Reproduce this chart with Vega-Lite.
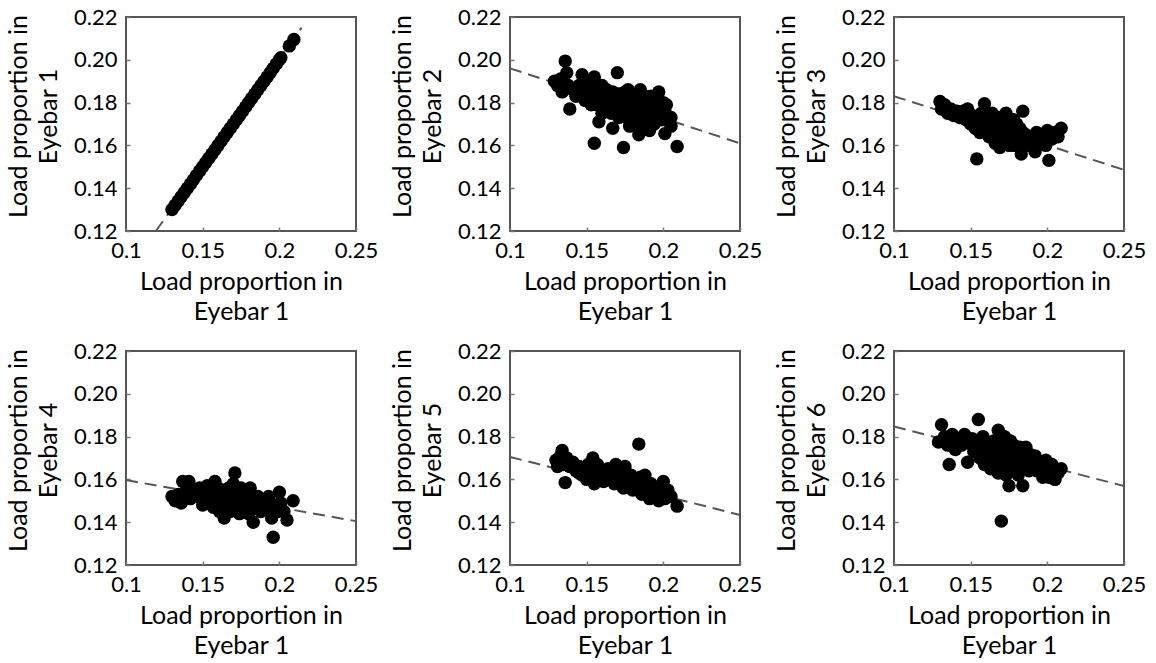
{
  "$schema": "https://vega.github.io/schema/vega-lite/v6.json",
  "padding": {"left": 5, "top": 5, "right": 5, "bottom": 5},
  "background": "white",
  "config": {
    "view": {"stroke": "#555555", "strokeWidth": 2},
    "axis": {
      "labelFont": "Lato", "labelFontSize": 22, "labelColor": "#000000",
      "titleFont": "Lato", "titleFontSize": 25, "titleFontWeight": "normal", "titleColor": "#000000",
      "titleLineHeight": 30,
      "domain": false, "grid": false, "ticks": true, "tickSize": -4, "tickColor": "#777777", "tickWidth": 1.5,
      "labelFlush": false, "labelOverlap": false, "labelBound": false,
      "labelPadding": 13
    },
    "axisX": {"titlePadding": 8},
    "axisY": {"titlePadding": 12, "titleY": 99}
  },
  "datasets": {
    "fit": [
      {"panel": 1, "x": 0.1195, "y": 0.12}, {"panel": 1, "x": 0.2145, "y": 0.215},
      {"panel": 2, "x": 0.1, "y": 0.196}, {"panel": 2, "x": 0.25, "y": 0.161},
      {"panel": 3, "x": 0.1, "y": 0.183}, {"panel": 3, "x": 0.25, "y": 0.1486},
      {"panel": 4, "x": 0.1, "y": 0.1597}, {"panel": 4, "x": 0.25, "y": 0.1405},
      {"panel": 5, "x": 0.1, "y": 0.1705}, {"panel": 5, "x": 0.25, "y": 0.1434},
      {"panel": 6, "x": 0.1, "y": 0.1847}, {"panel": 6, "x": 0.25, "y": 0.1569}
    ],
    "pts": [
      {"panel":1,"x":0.130,"y":0.130},{"panel":1,"x":0.132,"y":0.132},{"panel":1,"x":0.134,"y":0.134},{"panel":1,"x":0.136,"y":0.136},{"panel":1,"x":0.138,"y":0.138},{"panel":1,"x":0.140,"y":0.140},{"panel":1,"x":0.142,"y":0.142},{"panel":1,"x":0.144,"y":0.144},{"panel":1,"x":0.146,"y":0.146},{"panel":1,"x":0.148,"y":0.148},{"panel":1,"x":0.150,"y":0.150},{"panel":1,"x":0.152,"y":0.152},{"panel":1,"x":0.154,"y":0.154},{"panel":1,"x":0.156,"y":0.156},{"panel":1,"x":0.158,"y":0.158},{"panel":1,"x":0.160,"y":0.160},{"panel":1,"x":0.162,"y":0.162},{"panel":1,"x":0.164,"y":0.164},{"panel":1,"x":0.166,"y":0.166},{"panel":1,"x":0.168,"y":0.168},{"panel":1,"x":0.170,"y":0.170},{"panel":1,"x":0.172,"y":0.172},{"panel":1,"x":0.174,"y":0.174},{"panel":1,"x":0.176,"y":0.176},{"panel":1,"x":0.178,"y":0.178},{"panel":1,"x":0.180,"y":0.180},{"panel":1,"x":0.182,"y":0.182},{"panel":1,"x":0.184,"y":0.184},{"panel":1,"x":0.186,"y":0.186},{"panel":1,"x":0.188,"y":0.188},{"panel":1,"x":0.190,"y":0.190},{"panel":1,"x":0.192,"y":0.192},{"panel":1,"x":0.194,"y":0.194},{"panel":1,"x":0.196,"y":0.196},{"panel":1,"x":0.198,"y":0.198},{"panel":1,"x":0.200,"y":0.200},{"panel":1,"x":0.201,"y":0.201},{"panel":1,"x":0.2065,"y":0.2065},{"panel":1,"x":0.2095,"y":0.2095},

      {"panel":2,"x":0.129,"y":0.190},{"panel":2,"x":0.131,"y":0.188},{"panel":2,"x":0.133,"y":0.191},{"panel":2,"x":0.134,"y":0.185},{"panel":2,"x":0.136,"y":0.1994},{"panel":2,"x":0.137,"y":0.194},{"panel":2,"x":0.138,"y":0.188},{"panel":2,"x":0.139,"y":0.177},{"panel":2,"x":0.141,"y":0.186},{"panel":2,"x":0.143,"y":0.183},{"panel":2,"x":0.145,"y":0.188},{"panel":2,"x":0.147,"y":0.193},{"panel":2,"x":0.148,"y":0.185},{"panel":2,"x":0.149,"y":0.181},{"panel":2,"x":0.151,"y":0.186},{"panel":2,"x":0.152,"y":0.189},{"panel":2,"x":0.153,"y":0.183},{"panel":2,"x":0.155,"y":0.192},{"panel":2,"x":0.155,"y":0.161},{"panel":2,"x":0.156,"y":0.186},{"panel":2,"x":0.157,"y":0.179},{"panel":2,"x":0.158,"y":0.171},{"panel":2,"x":0.159,"y":0.184},{"panel":2,"x":0.160,"y":0.188},{"panel":2,"x":0.161,"y":0.181},{"panel":2,"x":0.162,"y":0.177},{"panel":2,"x":0.163,"y":0.186},{"panel":2,"x":0.164,"y":0.183},{"panel":2,"x":0.165,"y":0.179},{"panel":2,"x":0.166,"y":0.175},{"panel":2,"x":0.167,"y":0.168},{"panel":2,"x":0.167,"y":0.185},{"panel":2,"x":0.168,"y":0.181},{"panel":2,"x":0.170,"y":0.194},{"panel":2,"x":0.170,"y":0.178},{"panel":2,"x":0.171,"y":0.184},{"panel":2,"x":0.172,"y":0.181},{"panel":2,"x":0.173,"y":0.176},{"panel":2,"x":0.174,"y":0.159},{"panel":2,"x":0.174,"y":0.183},{"panel":2,"x":0.175,"y":0.179},{"panel":2,"x":0.176,"y":0.173},{"panel":2,"x":0.177,"y":0.186},{"panel":2,"x":0.178,"y":0.180},{"panel":2,"x":0.179,"y":0.176},{"panel":2,"x":0.180,"y":0.171},{"panel":2,"x":0.181,"y":0.183},{"panel":2,"x":0.182,"y":0.178},{"panel":2,"x":0.183,"y":0.174},{"panel":2,"x":0.184,"y":0.165},{"panel":2,"x":0.185,"y":0.186},{"panel":2,"x":0.186,"y":0.180},{"panel":2,"x":0.187,"y":0.176},{"panel":2,"x":0.188,"y":0.183},{"panel":2,"x":0.189,"y":0.171},{"panel":2,"x":0.190,"y":0.179},{"panel":2,"x":0.191,"y":0.167},{"panel":2,"x":0.192,"y":0.174},{"panel":2,"x":0.193,"y":0.180},{"panel":2,"x":0.194,"y":0.170},{"panel":2,"x":0.196,"y":0.176},{"panel":2,"x":0.197,"y":0.185},{"panel":2,"x":0.199,"y":0.172},{"panel":2,"x":0.200,"y":0.180},{"panel":2,"x":0.201,"y":0.1655},{"panel":2,"x":0.201,"y":0.176},{"panel":2,"x":0.203,"y":0.172},{"panel":2,"x":0.205,"y":0.173},{"panel":2,"x":0.209,"y":0.1595},
      {"panel":2,"x":0.145,"y":0.184},{"panel":2,"x":0.150,"y":0.189},{"panel":2,"x":0.158,"y":0.188},{"panel":2,"x":0.163,"y":0.180},{"panel":2,"x":0.168,"y":0.176},{"panel":2,"x":0.175,"y":0.185},{"panel":2,"x":0.180,"y":0.177},{"panel":2,"x":0.184,"y":0.181},{"panel":2,"x":0.189,"y":0.175},{"panel":2,"x":0.195,"y":0.179},{"panel":2,"x":0.192,"y":0.183},{"panel":2,"x":0.185,"y":0.170},{"panel":2,"x":0.178,"y":0.169},{"panel":2,"x":0.171,"y":0.173},{"panel":2,"x":0.160,"y":0.175},{"panel":2,"x":0.153,"y":0.179},{"panel":2,"x":0.196,"y":0.172},{"panel":2,"x":0.202,"y":0.179},{"panel":2,"x":0.205,"y":0.169},

      {"panel":3,"x":0.130,"y":0.1805},{"panel":3,"x":0.131,"y":0.177},{"panel":3,"x":0.133,"y":0.179},{"panel":3,"x":0.135,"y":0.175},{"panel":3,"x":0.137,"y":0.177},{"panel":3,"x":0.139,"y":0.174},{"panel":3,"x":0.141,"y":0.176},{"panel":3,"x":0.143,"y":0.173},{"panel":3,"x":0.145,"y":0.176},{"panel":3,"x":0.147,"y":0.172},{"panel":3,"x":0.148,"y":0.177},{"panel":3,"x":0.150,"y":0.170},{"panel":3,"x":0.151,"y":0.174},{"panel":3,"x":0.153,"y":0.168},{"panel":3,"x":0.154,"y":0.1537},{"panel":3,"x":0.155,"y":0.172},{"panel":3,"x":0.156,"y":0.166},{"panel":3,"x":0.157,"y":0.175},{"panel":3,"x":0.158,"y":0.170},{"panel":3,"x":0.159,"y":0.1795},{"panel":3,"x":0.160,"y":0.167},{"panel":3,"x":0.161,"y":0.173},{"panel":3,"x":0.162,"y":0.164},{"panel":3,"x":0.163,"y":0.170},{"panel":3,"x":0.164,"y":0.175},{"panel":3,"x":0.165,"y":0.166},{"panel":3,"x":0.166,"y":0.161},{"panel":3,"x":0.167,"y":0.172},{"panel":3,"x":0.168,"y":0.168},{"panel":3,"x":0.169,"y":0.159},{"panel":3,"x":0.170,"y":0.165},{"panel":3,"x":0.171,"y":0.170},{"panel":3,"x":0.172,"y":0.162},{"panel":3,"x":0.173,"y":0.175},{"panel":3,"x":0.174,"y":0.166},{"panel":3,"x":0.175,"y":0.160},{"panel":3,"x":0.176,"y":0.169},{"panel":3,"x":0.177,"y":0.163},{"panel":3,"x":0.178,"y":0.172},{"panel":3,"x":0.179,"y":0.166},{"panel":3,"x":0.180,"y":0.160},{"panel":3,"x":0.181,"y":0.164},{"panel":3,"x":0.182,"y":0.168},{"panel":3,"x":0.183,"y":0.156},{"panel":3,"x":0.184,"y":0.176},{"panel":3,"x":0.185,"y":0.162},{"panel":3,"x":0.186,"y":0.165},{"panel":3,"x":0.188,"y":0.160},{"panel":3,"x":0.190,"y":0.164},{"panel":3,"x":0.192,"y":0.157},{"panel":3,"x":0.193,"y":0.166},{"panel":3,"x":0.195,"y":0.161},{"panel":3,"x":0.197,"y":0.164},{"panel":3,"x":0.199,"y":0.160},{"panel":3,"x":0.200,"y":0.167},{"panel":3,"x":0.201,"y":0.153},{"panel":3,"x":0.203,"y":0.163},{"panel":3,"x":0.205,"y":0.166},{"panel":3,"x":0.207,"y":0.164},{"panel":3,"x":0.209,"y":0.168},
      {"panel":3,"x":0.158,"y":0.175},{"panel":3,"x":0.163,"y":0.166},{"panel":3,"x":0.168,"y":0.173},{"panel":3,"x":0.172,"y":0.167},{"panel":3,"x":0.176,"y":0.165},{"panel":3,"x":0.180,"y":0.170},{"panel":3,"x":0.184,"y":0.166},{"panel":3,"x":0.187,"y":0.163},{"panel":3,"x":0.191,"y":0.161},{"panel":3,"x":0.195,"y":0.165},{"panel":3,"x":0.170,"y":0.162},{"panel":3,"x":0.178,"y":0.160},{"panel":3,"x":0.156,"y":0.170},{"panel":3,"x":0.150,"y":0.174},

      {"panel":4,"x":0.130,"y":0.152},{"panel":4,"x":0.132,"y":0.150},{"panel":4,"x":0.134,"y":0.153},{"panel":4,"x":0.136,"y":0.149},{"panel":4,"x":0.137,"y":0.159},{"panel":4,"x":0.139,"y":0.154},{"panel":4,"x":0.141,"y":0.159},{"panel":4,"x":0.142,"y":0.151},{"panel":4,"x":0.144,"y":0.155},{"panel":4,"x":0.146,"y":0.152},{"panel":4,"x":0.148,"y":0.156},{"panel":4,"x":0.150,"y":0.148},{"panel":4,"x":0.151,"y":0.153},{"panel":4,"x":0.153,"y":0.157},{"panel":4,"x":0.154,"y":0.150},{"panel":4,"x":0.156,"y":0.154},{"panel":4,"x":0.157,"y":0.147},{"panel":4,"x":0.158,"y":0.159},{"panel":4,"x":0.159,"y":0.152},{"panel":4,"x":0.160,"y":0.156},{"panel":4,"x":0.161,"y":0.145},{"panel":4,"x":0.162,"y":0.150},{"panel":4,"x":0.163,"y":0.154},{"panel":4,"x":0.164,"y":0.142},{"panel":4,"x":0.165,"y":0.148},{"panel":4,"x":0.166,"y":0.152},{"panel":4,"x":0.167,"y":0.156},{"panel":4,"x":0.168,"y":0.145},{"panel":4,"x":0.169,"y":0.150},{"panel":4,"x":0.170,"y":0.158},{"panel":4,"x":0.171,"y":0.163},{"panel":4,"x":0.171,"y":0.147},{"panel":4,"x":0.172,"y":0.153},{"panel":4,"x":0.173,"y":0.149},{"panel":4,"x":0.174,"y":0.144},{"panel":4,"x":0.175,"y":0.156},{"panel":4,"x":0.176,"y":0.151},{"panel":4,"x":0.177,"y":0.147},{"panel":4,"x":0.178,"y":0.153},{"panel":4,"x":0.179,"y":0.149},{"panel":4,"x":0.180,"y":0.144},{"panel":4,"x":0.181,"y":0.156},{"panel":4,"x":0.182,"y":0.150},{"panel":4,"x":0.183,"y":0.140},{"panel":4,"x":0.184,"y":0.147},{"panel":4,"x":0.186,"y":0.152},{"panel":4,"x":0.188,"y":0.145},{"panel":4,"x":0.190,"y":0.150},{"panel":4,"x":0.192,"y":0.146},{"panel":4,"x":0.193,"y":0.152},{"panel":4,"x":0.195,"y":0.142},{"panel":4,"x":0.196,"y":0.133},{"panel":4,"x":0.197,"y":0.148},{"panel":4,"x":0.199,"y":0.145},{"panel":4,"x":0.200,"y":0.154},{"panel":4,"x":0.201,"y":0.149},{"panel":4,"x":0.203,"y":0.145},{"panel":4,"x":0.205,"y":0.141},{"panel":4,"x":0.209,"y":0.150},
      {"panel":4,"x":0.155,"y":0.151},{"panel":4,"x":0.160,"y":0.149},{"panel":4,"x":0.165,"y":0.155},{"panel":4,"x":0.170,"y":0.152},{"panel":4,"x":0.175,"y":0.149},{"panel":4,"x":0.180,"y":0.151},{"panel":4,"x":0.185,"y":0.149},{"panel":4,"x":0.190,"y":0.146},{"panel":4,"x":0.168,"y":0.148},{"panel":4,"x":0.172,"y":0.146},

      {"panel":5,"x":0.130,"y":0.169},{"panel":5,"x":0.131,"y":0.166},{"panel":5,"x":0.133,"y":0.171},{"panel":5,"x":0.134,"y":0.1735},{"panel":5,"x":0.135,"y":0.167},{"panel":5,"x":0.136,"y":0.1585},{"panel":5,"x":0.137,"y":0.170},{"panel":5,"x":0.139,"y":0.166},{"panel":5,"x":0.141,"y":0.168},{"panel":5,"x":0.143,"y":0.164},{"panel":5,"x":0.145,"y":0.166},{"panel":5,"x":0.147,"y":0.162},{"panel":5,"x":0.149,"y":0.165},{"panel":5,"x":0.150,"y":0.160},{"panel":5,"x":0.151,"y":0.167},{"panel":5,"x":0.153,"y":0.163},{"panel":5,"x":0.154,"y":0.170},{"panel":5,"x":0.155,"y":0.158},{"panel":5,"x":0.156,"y":0.164},{"panel":5,"x":0.157,"y":0.167},{"panel":5,"x":0.158,"y":0.161},{"panel":5,"x":0.160,"y":0.164},{"panel":5,"x":0.161,"y":0.159},{"panel":5,"x":0.163,"y":0.162},{"panel":5,"x":0.164,"y":0.165},{"panel":5,"x":0.165,"y":0.160},{"panel":5,"x":0.167,"y":0.163},{"panel":5,"x":0.168,"y":0.158},{"panel":5,"x":0.169,"y":0.167},{"panel":5,"x":0.170,"y":0.161},{"panel":5,"x":0.172,"y":0.164},{"panel":5,"x":0.173,"y":0.159},{"panel":5,"x":0.174,"y":0.156},{"panel":5,"x":0.175,"y":0.166},{"panel":5,"x":0.176,"y":0.161},{"panel":5,"x":0.178,"y":0.158},{"panel":5,"x":0.179,"y":0.162},{"panel":5,"x":0.180,"y":0.155},{"panel":5,"x":0.182,"y":0.159},{"panel":5,"x":0.184,"y":0.1765},{"panel":5,"x":0.184,"y":0.156},{"panel":5,"x":0.185,"y":0.161},{"panel":5,"x":0.186,"y":0.153},{"panel":5,"x":0.187,"y":0.158},{"panel":5,"x":0.188,"y":0.162},{"panel":5,"x":0.190,"y":0.155},{"panel":5,"x":0.191,"y":0.151},{"panel":5,"x":0.192,"y":0.158},{"panel":5,"x":0.194,"y":0.153},{"panel":5,"x":0.196,"y":0.156},{"panel":5,"x":0.197,"y":0.150},{"panel":5,"x":0.199,"y":0.154},{"panel":5,"x":0.200,"y":0.159},{"panel":5,"x":0.201,"y":0.151},{"panel":5,"x":0.203,"y":0.155},{"panel":5,"x":0.205,"y":0.152},{"panel":5,"x":0.209,"y":0.1475},
      {"panel":5,"x":0.160,"y":0.161},{"panel":5,"x":0.165,"y":0.163},{"panel":5,"x":0.170,"y":0.164},{"panel":5,"x":0.175,"y":0.160},{"panel":5,"x":0.180,"y":0.159},{"panel":5,"x":0.185,"y":0.157},{"panel":5,"x":0.190,"y":0.158},{"panel":5,"x":0.195,"y":0.153},{"panel":5,"x":0.145,"y":0.163},{"panel":5,"x":0.150,"y":0.166},{"panel":5,"x":0.155,"y":0.162},

      {"panel":6,"x":0.129,"y":0.1775},{"panel":6,"x":0.131,"y":0.1855},{"panel":6,"x":0.133,"y":0.180},{"panel":6,"x":0.135,"y":0.176},{"panel":6,"x":0.136,"y":0.167},{"panel":6,"x":0.138,"y":0.181},{"panel":6,"x":0.140,"y":0.178},{"panel":6,"x":0.142,"y":0.179},{"panel":6,"x":0.144,"y":0.176},{"panel":6,"x":0.146,"y":0.181},{"panel":6,"x":0.148,"y":0.168},{"panel":6,"x":0.149,"y":0.177},{"panel":6,"x":0.151,"y":0.179},{"panel":6,"x":0.152,"y":0.173},{"panel":6,"x":0.154,"y":0.176},{"panel":6,"x":0.155,"y":0.188},{"panel":6,"x":0.156,"y":0.170},{"panel":6,"x":0.157,"y":0.178},{"panel":6,"x":0.158,"y":0.174},{"panel":6,"x":0.159,"y":0.167},{"panel":6,"x":0.160,"y":0.177},{"panel":6,"x":0.161,"y":0.172},{"panel":6,"x":0.162,"y":0.175},{"panel":6,"x":0.163,"y":0.165},{"panel":6,"x":0.164,"y":0.170},{"panel":6,"x":0.165,"y":0.178},{"panel":6,"x":0.166,"y":0.174},{"panel":6,"x":0.167,"y":0.168},{"panel":6,"x":0.168,"y":0.183},{"panel":6,"x":0.168,"y":0.163},{"panel":6,"x":0.169,"y":0.172},{"panel":6,"x":0.170,"y":0.1405},{"panel":6,"x":0.170,"y":0.176},{"panel":6,"x":0.171,"y":0.166},{"panel":6,"x":0.172,"y":0.180},{"panel":6,"x":0.173,"y":0.170},{"panel":6,"x":0.174,"y":0.174},{"panel":6,"x":0.175,"y":0.157},{"panel":6,"x":0.175,"y":0.164},{"panel":6,"x":0.176,"y":0.178},{"panel":6,"x":0.177,"y":0.168},{"panel":6,"x":0.178,"y":0.172},{"panel":6,"x":0.179,"y":0.166},{"panel":6,"x":0.180,"y":0.175},{"panel":6,"x":0.181,"y":0.162},{"panel":6,"x":0.182,"y":0.169},{"panel":6,"x":0.183,"y":0.172},{"panel":6,"x":0.184,"y":0.157},{"panel":6,"x":0.185,"y":0.166},{"panel":6,"x":0.186,"y":0.175},{"panel":6,"x":0.187,"y":0.170},{"panel":6,"x":0.188,"y":0.164},{"panel":6,"x":0.190,"y":0.168},{"panel":6,"x":0.192,"y":0.171},{"panel":6,"x":0.193,"y":0.164},{"panel":6,"x":0.195,"y":0.168},{"panel":6,"x":0.197,"y":0.161},{"panel":6,"x":0.199,"y":0.169},{"panel":6,"x":0.200,"y":0.165},{"panel":6,"x":0.201,"y":0.161},{"panel":6,"x":0.203,"y":0.167},{"panel":6,"x":0.205,"y":0.160},{"panel":6,"x":0.207,"y":0.163},{"panel":6,"x":0.209,"y":0.165},
      {"panel":6,"x":0.140,"y":0.174},{"panel":6,"x":0.145,"y":0.178},{"panel":6,"x":0.153,"y":0.178},{"panel":6,"x":0.158,"y":0.180},{"panel":6,"x":0.163,"y":0.176},{"panel":6,"x":0.167,"y":0.178},{"panel":6,"x":0.171,"y":0.180},{"panel":6,"x":0.175,"y":0.176},{"panel":6,"x":0.178,"y":0.176},{"panel":6,"x":0.182,"y":0.175},{"panel":6,"x":0.184,"y":0.170},{"panel":6,"x":0.188,"y":0.172},{"panel":6,"x":0.191,"y":0.166},{"panel":6,"x":0.196,"y":0.166},{"panel":6,"x":0.173,"y":0.162},{"panel":6,"x":0.165,"y":0.168},{"panel":6,"x":0.160,"y":0.170}
    ]
  },
  "columns": 3,
  "spacing": {"row": 120, "column": 154},
  "bounds": "flush",
  "concat": [
    {
      "width": 230, "height": 214,
      "encoding": {
        "x": {"field": "x", "type": "quantitative", "scale": {"domain": [0.1, 0.25], "nice": false, "zero": false}, "axis": {"values": [0.1, 0.15, 0.2, 0.25], "format": "~g", "title": ["Load proportion in", "Eyebar 1"]}},
        "y": {"field": "y", "type": "quantitative", "scale": {"domain": [0.12, 0.22], "nice": false, "zero": false}, "axis": {"values": [0.12, 0.14, 0.16, 0.18, 0.2, 0.22], "format": ".2f", "title": ["Load proportion in", "Eyebar 1"]}}
      },
      "layer": [
        {"data": {"name": "fit"}, "transform": [{"filter": "datum.panel == 1"}], "mark": {"type": "line", "color": "#555555", "strokeWidth": 2, "strokeDash": [12, 7]}},
        {"data": {"name": "pts"}, "transform": [{"filter": "datum.panel == 1"}], "mark": {"type": "circle", "size": 180, "color": "#000000", "opacity": 1}}
      ]
    },
    {
      "width": 230, "height": 214,
      "encoding": {
        "x": {"field": "x", "type": "quantitative", "scale": {"domain": [0.1, 0.25], "nice": false, "zero": false}, "axis": {"values": [0.1, 0.15, 0.2, 0.25], "format": "~g", "title": ["Load proportion in", "Eyebar 1"]}},
        "y": {"field": "y", "type": "quantitative", "scale": {"domain": [0.12, 0.22], "nice": false, "zero": false}, "axis": {"values": [0.12, 0.14, 0.16, 0.18, 0.2, 0.22], "format": ".2f", "title": ["Load proportion in", "Eyebar 2"]}}
      },
      "layer": [
        {"data": {"name": "fit"}, "transform": [{"filter": "datum.panel == 2"}], "mark": {"type": "line", "color": "#555555", "strokeWidth": 2, "strokeDash": [12, 7]}},
        {"data": {"name": "pts"}, "transform": [{"filter": "datum.panel == 2"}], "mark": {"type": "circle", "size": 180, "color": "#000000", "opacity": 1}}
      ]
    },
    {
      "width": 230, "height": 214,
      "encoding": {
        "x": {"field": "x", "type": "quantitative", "scale": {"domain": [0.1, 0.25], "nice": false, "zero": false}, "axis": {"values": [0.1, 0.15, 0.2, 0.25], "format": "~g", "title": ["Load proportion in", "Eyebar 1"]}},
        "y": {"field": "y", "type": "quantitative", "scale": {"domain": [0.12, 0.22], "nice": false, "zero": false}, "axis": {"values": [0.12, 0.14, 0.16, 0.18, 0.2, 0.22], "format": ".2f", "title": ["Load proportion in", "Eyebar 3"]}}
      },
      "layer": [
        {"data": {"name": "fit"}, "transform": [{"filter": "datum.panel == 3"}], "mark": {"type": "line", "color": "#555555", "strokeWidth": 2, "strokeDash": [12, 7]}},
        {"data": {"name": "pts"}, "transform": [{"filter": "datum.panel == 3"}], "mark": {"type": "circle", "size": 180, "color": "#000000", "opacity": 1}}
      ]
    },
    {
      "width": 230, "height": 214,
      "encoding": {
        "x": {"field": "x", "type": "quantitative", "scale": {"domain": [0.1, 0.25], "nice": false, "zero": false}, "axis": {"values": [0.1, 0.15, 0.2, 0.25], "format": "~g", "title": ["Load proportion in", "Eyebar 1"]}},
        "y": {"field": "y", "type": "quantitative", "scale": {"domain": [0.12, 0.22], "nice": false, "zero": false}, "axis": {"values": [0.12, 0.14, 0.16, 0.18, 0.2, 0.22], "format": ".2f", "title": ["Load proportion in", "Eyebar 4"]}}
      },
      "layer": [
        {"data": {"name": "fit"}, "transform": [{"filter": "datum.panel == 4"}], "mark": {"type": "line", "color": "#555555", "strokeWidth": 2, "strokeDash": [12, 7]}},
        {"data": {"name": "pts"}, "transform": [{"filter": "datum.panel == 4"}], "mark": {"type": "circle", "size": 180, "color": "#000000", "opacity": 1}}
      ]
    },
    {
      "width": 230, "height": 214,
      "encoding": {
        "x": {"field": "x", "type": "quantitative", "scale": {"domain": [0.1, 0.25], "nice": false, "zero": false}, "axis": {"values": [0.1, 0.15, 0.2, 0.25], "format": "~g", "title": ["Load proportion in", "Eyebar 1"]}},
        "y": {"field": "y", "type": "quantitative", "scale": {"domain": [0.12, 0.22], "nice": false, "zero": false}, "axis": {"values": [0.12, 0.14, 0.16, 0.18, 0.2, 0.22], "format": ".2f", "title": ["Load proportion in", "Eyebar 5"]}}
      },
      "layer": [
        {"data": {"name": "fit"}, "transform": [{"filter": "datum.panel == 5"}], "mark": {"type": "line", "color": "#555555", "strokeWidth": 2, "strokeDash": [12, 7]}},
        {"data": {"name": "pts"}, "transform": [{"filter": "datum.panel == 5"}], "mark": {"type": "circle", "size": 180, "color": "#000000", "opacity": 1}}
      ]
    },
    {
      "width": 230, "height": 214,
      "encoding": {
        "x": {"field": "x", "type": "quantitative", "scale": {"domain": [0.1, 0.25], "nice": false, "zero": false}, "axis": {"values": [0.1, 0.15, 0.2, 0.25], "format": "~g", "title": ["Load proportion in", "Eyebar 1"]}},
        "y": {"field": "y", "type": "quantitative", "scale": {"domain": [0.12, 0.22], "nice": false, "zero": false}, "axis": {"values": [0.12, 0.14, 0.16, 0.18, 0.2, 0.22], "format": ".2f", "title": ["Load proportion in", "Eyebar 6"]}}
      },
      "layer": [
        {"data": {"name": "fit"}, "transform": [{"filter": "datum.panel == 6"}], "mark": {"type": "line", "color": "#555555", "strokeWidth": 2, "strokeDash": [12, 7]}},
        {"data": {"name": "pts"}, "transform": [{"filter": "datum.panel == 6"}], "mark": {"type": "circle", "size": 180, "color": "#000000", "opacity": 1}}
      ]
    }
  ]
}
